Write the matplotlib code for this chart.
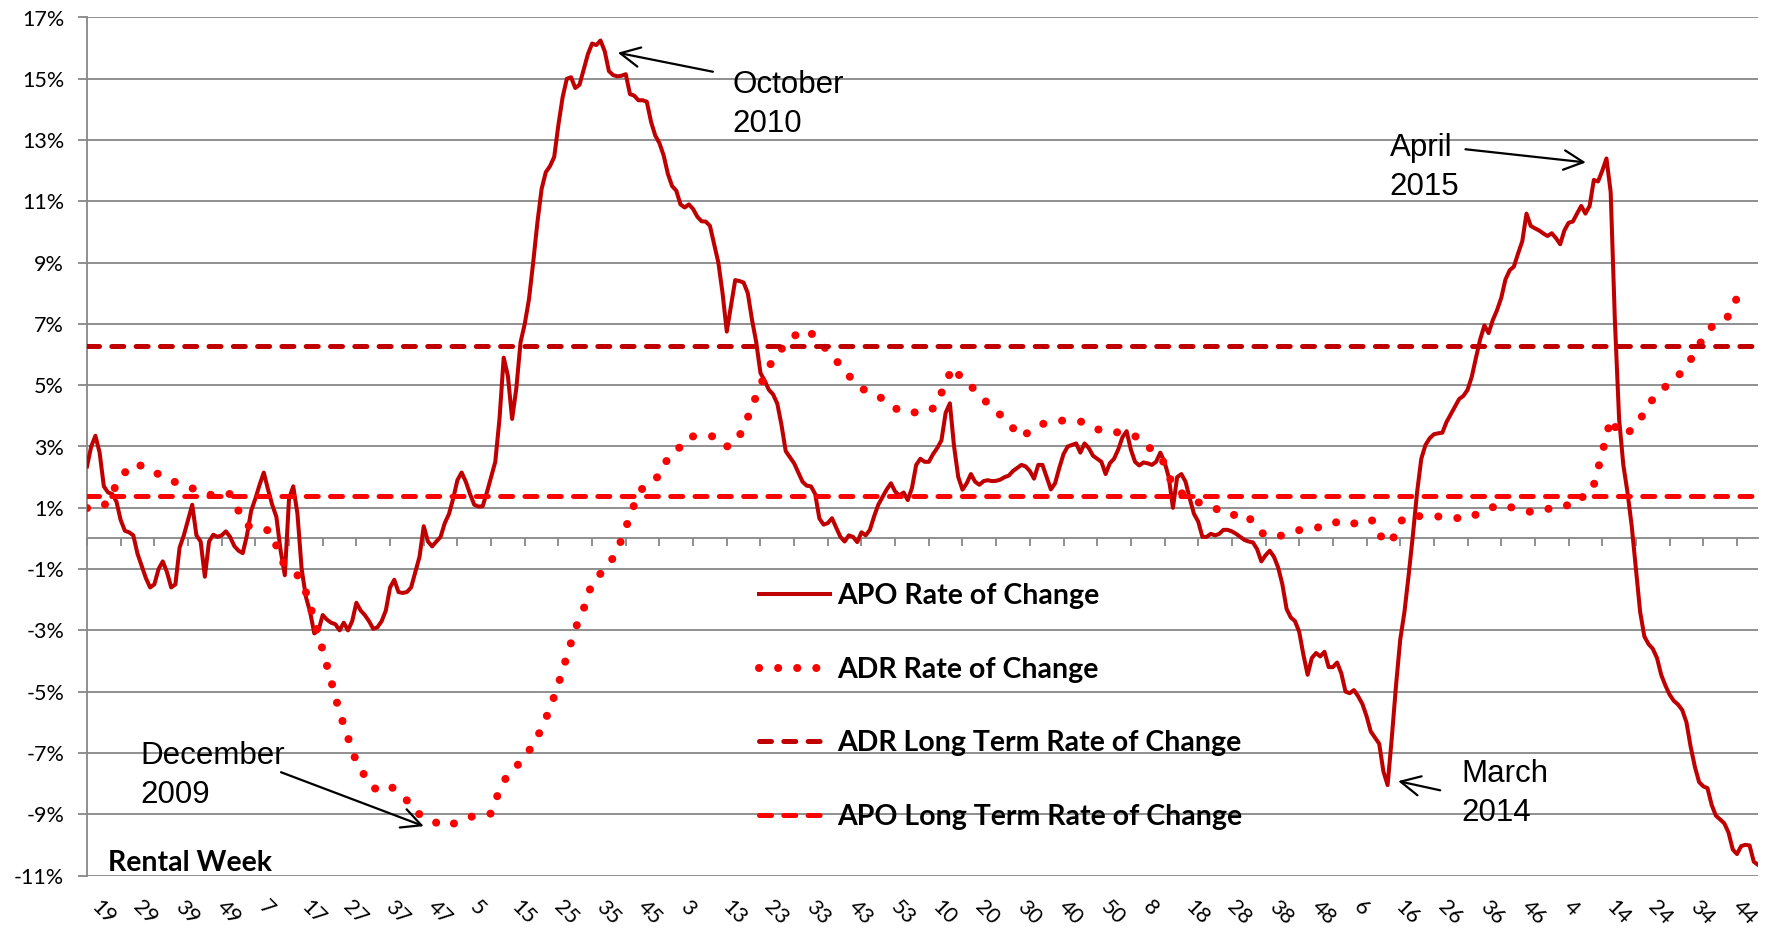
import matplotlib.pyplot as plt
import numpy as np
from matplotlib.ticker import FuncFormatter

# weekly APO rate of change (%), rental week 19 of the first year onwards
apo_rate = [
    2.35, 3.0, 3.35, 2.8, 1.7, 1.5, 1.45, 1.2, 0.6, 0.25,
    0.2, 0.1, -0.5, -0.9, -1.3, -1.6, -1.5, -1.0, -0.75, -1.1,
    -1.6, -1.5, -0.3, 0.1, 0.6, 1.1, 0.1, -0.1, -1.25, -0.1,
    0.12, 0.05, 0.1, 0.23, 0.05, -0.25, -0.4, -0.48, 0.1, 0.9,
    1.3, 1.75, 2.15, 1.6, 1.1, 0.7, -0.4, -1.2, 1.3, 1.7,
    0.8, -1.0, -1.9, -2.4, -3.1, -3.0, -2.5, -2.65, -2.75, -2.8,
    -3.0, -2.75, -3.0, -2.7, -2.1, -2.35, -2.5, -2.7, -2.95, -2.9,
    -2.7, -2.35, -1.6, -1.35, -1.75, -1.78, -1.75, -1.6, -1.1, -0.6,
    0.4, -0.1, -0.26, -0.1, 0.05, 0.5, 0.8, 1.3, 1.9, 2.15,
    1.85, 1.45, 1.1, 1.04, 1.05, 1.5, 2.0, 2.5, 3.9, 5.9,
    5.3, 3.9, 4.9, 6.4, 7.0, 7.8, 9.0, 10.3, 11.4, 11.95,
    12.15, 12.45, 13.5, 14.4, 15.0, 15.05, 14.7, 14.8, 15.3, 15.8,
    16.15, 16.1, 16.25, 15.9, 15.25, 15.12, 15.08, 15.1, 15.15, 14.5,
    14.45, 14.3, 14.3, 14.25, 13.6, 13.15, 12.9, 12.5, 11.9, 11.5,
    11.35, 10.9, 10.8, 10.9, 10.75, 10.5, 10.35, 10.34, 10.2, 9.6,
    9.0, 8.0, 6.75, 7.6, 8.43, 8.4, 8.35, 8.0, 7.13, 6.4,
    5.4, 5.15, 4.85, 4.7, 4.4, 3.7, 2.85, 2.65, 2.45, 2.15,
    1.85, 1.72, 1.7, 1.45, 0.65, 0.45, 0.5, 0.66, 0.35, 0.05,
    -0.1, 0.1, 0.05, -0.12, 0.2, 0.1, 0.28, 0.72, 1.1, 1.35,
    1.6, 1.8, 1.53, 1.4, 1.5, 1.25, 1.65, 2.4, 2.6, 2.5,
    2.5, 2.75, 2.95, 3.2, 4.1, 4.41, 3.0, 2.0, 1.59, 1.8,
    2.1, 1.85, 1.75, 1.87, 1.9, 1.87, 1.88, 1.92, 2.0, 2.05,
    2.2, 2.3, 2.4, 2.35, 2.2, 1.95, 2.4, 2.4, 2.0, 1.6,
    1.8, 2.3, 2.75, 3.0, 3.05, 3.1, 2.8, 3.1, 2.95, 2.7,
    2.6, 2.5, 2.1, 2.45, 2.6, 2.9, 3.3, 3.5, 2.9, 2.5,
    2.38, 2.48, 2.45, 2.4, 2.5, 2.8, 2.5, 2.0, 1.0, 2.0,
    2.1, 1.85, 1.3, 0.8, 0.55, 0.05, 0.05, 0.15, 0.1, 0.15,
    0.28, 0.28, 0.23, 0.15, 0.05, -0.05, -0.1, -0.13, -0.35, -0.75,
    -0.55, -0.4, -0.6, -0.95, -1.5, -2.3, -2.58, -2.7, -3.05, -3.8,
    -4.45, -3.9, -3.74, -3.85, -3.7, -4.2, -4.2, -4.05, -4.4, -5.0,
    -5.05, -4.95, -5.15, -5.4, -5.8, -6.3, -6.5, -6.7, -7.6, -8.05,
    -6.5, -4.8, -3.3, -2.4, -1.2, 0.1, 1.5, 2.6, 3.05, 3.27,
    3.4, 3.43, 3.45, 3.8, 4.05, 4.3, 4.55, 4.65, 4.85, 5.28,
    5.9, 6.5, 6.95, 6.7, 7.13, 7.45, 7.85, 8.45, 8.75, 8.87,
    9.3, 9.7, 10.6, 10.2, 10.12, 10.05, 9.95, 9.87, 9.96, 9.8,
    9.6, 10.05, 10.3, 10.34, 10.6, 10.85, 10.6, 10.85, 11.7, 11.65,
    12.0, 12.4, 11.3, 7.1, 3.9, 2.4, 1.5, 0.4, -1.0, -2.4,
    -3.2, -3.45, -3.6, -3.9, -4.45, -4.8, -5.1, -5.3, -5.42, -5.6,
    -6.0, -6.8, -7.45, -7.95, -8.09, -8.15, -8.7, -9.05, -9.17, -9.3,
    -9.6, -10.15, -10.3, -10.04, -10.0, -10.02, -10.55, -10.65,
]

# ADR rate of change (%), read every second week
adr_rate = [
    0.99, 1.0, 1.05, 1.5, 2.0, 2.3, 2.45, 2.25, 2.15, 2.05,
    1.9, 1.77, 1.68, 1.59, 1.48, 1.4, 1.45, 1.45, 0.9, 0.42,
    0.36, 0.32, 0.2, -0.7, -1.0, -1.2, -1.75, -2.65, -3.65, -4.65,
    -5.67, -6.5, -7.3, -7.75, -8.15, -8.2, -8.07, -8.3, -8.55, -8.95,
    -9.05, -9.18, -9.38, -9.35, -9.27, -9.15, -9.05, -9.0, -8.98, -8.2,
    -7.7, -7.45, -7.1, -6.75, -6.2, -5.55, -4.75, -3.85, -2.95, -2.3,
    -1.45, -1.15, -0.85, -0.4, 0.35, 1.1, 1.65, 1.85, 2.05, 2.62,
    2.8, 3.25, 3.33, 3.35, 3.35, 3.28, 3.0, 3.1, 3.6, 4.3,
    5.0, 5.6, 6.03, 6.33, 6.6, 6.8, 6.7, 6.45, 6.1, 5.8,
    5.5, 5.14, 4.9, 4.75, 4.65, 4.45, 4.25, 4.11, 4.11, 4.12,
    4.14, 4.35, 5.14, 5.6, 5.15, 4.97, 4.7, 4.4, 4.16, 3.9,
    3.6, 3.3, 3.5, 3.68, 3.78, 3.82, 3.85, 3.84, 3.82, 3.7,
    3.56, 3.52, 3.51, 3.38, 3.36, 3.3, 3.0, 2.8, 2.45, 1.7,
    1.48, 1.35, 1.18, 1.08, 0.99, 0.82, 0.74, 0.85, 0.7, 0.3,
    0.1, 0.05, 0.1, 0.18, 0.27, 0.3, 0.34, 0.42, 0.54, 0.5,
    0.42, 0.55, 0.65, 0.55, -0.12, -0.1, 0.55, 0.75, 0.73, 0.72,
    0.72, 0.71, 0.68, 0.66, 0.64, 0.78, 0.93, 1.02, 1.1, 1.03,
    0.95, 0.88, 0.86, 0.93, 0.99, 0.99, 1.1, 1.37, 1.34, 1.75,
    2.8, 3.9, 3.42, 3.43, 3.7, 4.1, 4.55, 4.85, 5.05, 5.3,
    5.62, 6.05, 6.55, 6.9, 7.1, 7.25, 7.85,
]

adr_long_term = 6.28
apo_long_term = 1.40

week_labels = [
    "19", "29", "39", "49", "7", "17", "27", "37", "47", "5",
    "15", "25", "35", "45", "3", "13", "23", "33", "43", "53",
    "10", "20", "30", "40", "50", "8", "18", "28", "38", "48",
    "6", "16", "26", "36", "46", "4", "14", "24", "34", "44",
]

dark_red = "#C00000"
red = "#FF0000"
grey = "#878787"

plt.rcParams['font.family'] = ['Lato', 'DejaVu Sans']

fig, ax = plt.subplots(figsize=(17.69, 9.30), dpi=100)
fig.subplots_adjust(left=87 / 1769, right=1758 / 1769,
                    top=1 - 17.5 / 930, bottom=1 - 875.5 / 930)

weeks = np.arange(len(apo_rate))
adr_weeks = np.arange(len(adr_rate)) * 2

ax.plot(weeks, apo_rate, color=dark_red, lw=2.9, solid_joinstyle='round',
        label='APO Rate of Change', zorder=3)
ax.plot(adr_weeks, adr_rate, color=red, lw=5.8, linestyle=(0, (0.01, 2.36)),
        dash_capstyle='round', label='ADR Rate of Change', zorder=4)
ax.axhline(adr_long_term, color=dark_red, lw=3.6, linestyle=(0, (2.4, 2.46)),
           dash_capstyle='round', label='ADR Long Term Rate of Change', zorder=5)
ax.axhline(apo_long_term, color=red, lw=3.6, linestyle=(0, (2.4, 2.46)),
           dash_capstyle='round', label='APO Long Term Rate of Change', zorder=5)

ax.set_xlim(0, len(apo_rate) - 1)
ax.set_ylim(-11, 17)
ax.set_yticks(np.arange(-11, 18, 2))
ax.yaxis.set_major_formatter(FuncFormatter(lambda v, p: f"{v:.0f}%"))
ax.grid(axis='y', color=grey, lw=1.3)
ax.set_axisbelow(True)

for side in ['top', 'right']:
    ax.spines[side].set_visible(False)
ax.spines['left'].set_color(grey)
ax.spines['left'].set_linewidth(1.3)
ax.spines['bottom'].set_position(('data', 0))
ax.spines['bottom'].set_color(grey)
ax.spines['bottom'].set_linewidth(1.3)

ax.set_xticks(np.arange(0, len(apo_rate), 8))
ax.tick_params(axis='x', direction='out', length=6, width=1.3, color=grey,
               labelbottom=False)
ax.tick_params(axis='y', direction='out', length=6.5, width=1.3, color=grey,
               pad=10, labelsize=15.5)

sec = ax.secondary_xaxis('bottom')
sec.set_xticks(np.arange(len(week_labels)) * 10, labels=week_labels)
sec.tick_params(length=0, pad=15)
sec.spines['bottom'].set_visible(False)
for t in sec.get_xticklabels():
    t.set_rotation(-45)
    t.set_ha('left')
    t.set_va('top')
    t.set_fontsize(15.5)

# callouts (y of each text = baseline of its second line)
arrow = dict(arrowstyle='->,head_length=0.7,head_width=0.35', color='black',
             lw=1.6, shrinkA=0, shrinkB=0, mutation_scale=20)
note_font = dict(fontsize=22.5, family='Liberation Sans', va='baseline',
                 ha='left', linespacing=1.4, zorder=6)

ax.annotate('', xy=(126.1, 15.85), xytext=(148.7, 15.23), arrowprops=arrow)
ax.text(153.4, 13.27, "October\n2010", **note_font)

ax.annotate('', xy=(356.1, 12.27), xytext=(327.5, 12.7), arrowprops=arrow)
ax.text(309.5, 11.2, "April\n2015", **note_font)

ax.annotate('', xy=(311.5, -7.92), xytext=(321.5, -8.22), arrowprops=arrow)
ax.text(326.5, -9.23, "March\n2014", **note_font)

ax.annotate('', xy=(80, -9.39), xytext=(46.1, -7.63), arrowprops=arrow)
ax.text(12.7, -8.63, "December\n2009", **note_font)

ax.text(4.9, -10.86, "Rental Week", fontsize=20.5, fontweight='bold',
        va='baseline', ha='left')

ax.legend(loc='center left', bbox_to_anchor=(0.402, 0.197), frameon=False,
          prop={'family': 'Lato', 'weight': 'bold', 'size': 20.5},
          handlelength=2.5, handletextpad=0.25, labelspacing=1.68,
          borderpad=0, borderaxespad=0)

fig.savefig('out.png', dpi=100)
